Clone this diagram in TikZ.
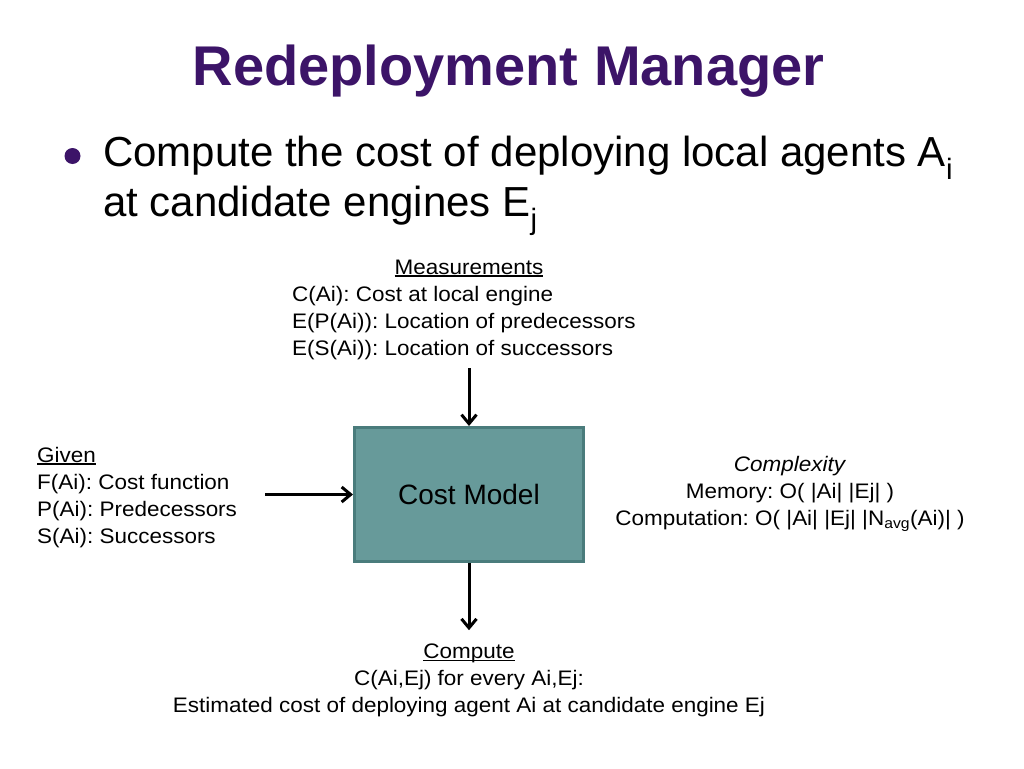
\documentclass[tikz,border=0pt]{standalone}
\usepackage{fontspec}
\setmainfont{Liberation Sans}
\newfontfamily\diagfont[FakeStretch=1.07]{Liberation Sans}
\usepackage{xcolor}
\usepackage{tikz}
\usetikzlibrary{arrows.meta, positioning, calc}
\definecolor{titlepurple}{HTML}{3C1468}
\definecolor{boxfill}{HTML}{679A9A}
\definecolor{boxedge}{HTML}{4A7C7C}
\newcommand{\ulabel}[1]{\setbox0\hbox{#1}\rlap{\rule[-2.6pt]{\wd0}{1.5pt}}\box0}
\frenchspacing

\begin{document}
\begin{tikzpicture}[x=1pt, y=-1pt,
    >={Straight Barb[length=9pt,width=15pt]},
    title/.style={font=\fontsize{56}{60}\selectfont\bfseries, text=titlepurple, inner sep=0},
    point/.style={font=\fontsize{42}{50}\selectfont, inner sep=0, anchor=base west},
    note/.style={font=\diagfont\fontsize{21}{27}\selectfont, inner sep=0},
    costbox/.style={draw=boxedge, fill=boxfill, line width=3pt, minimum width=229pt,
      minimum height=134pt, font=\fontsize{28}{32}\selectfont},
    flow/.style={->, line width=3pt}]
          \fill[white] (0,0) rectangle (1024,768);
          \useasboundingbox (0,0) rectangle (1024,768);

          \node[title, anchor=base] (title) at (508.5,85) {Redeployment Manager};
          \node[circle, fill=titlepurple, minimum size=16pt, inner sep=0] (dot) at (72.5,156) {};
          \node[point] (pt1) at (103,166.5) {Compute the cost of deploying local agents A\textsubscript{i}};
          \node[point] (pt2) at (103,216.5) {at candidate engines E\textsubscript{j}};

          \node[costbox] (cm) at (469,494.5) {Cost Model};

          \node[note, anchor=base] (meashd) at (469,274) {\ulabel{Measurements}};
          \node[note, anchor=north west, align=left] (meas) at (292,285.7)
            {C(Ai): Cost at local engine\\ E(P(Ai)): Location of predecessors\\ E(S(Ai)): Location of successors};
          \node[note, anchor=north west, align=left] (given) at (37,446.7)
            {\ulabel{Given}\\ F(Ai): Cost function\\ P(Ai): Predecessors\\ S(Ai): Successors};
          \node[note, anchor=north, align=center] (cplx) at (790,455.7)
            {\textit{Complexity}\\ Memory: O( |Ai| |Ej| )\\ Computation: O( |Ai| |Ej| |N\textsubscript{avg}(Ai)| )};
          \node[note, anchor=north, align=center] (comp) at (469,643.7)
            {\ulabel{Compute}\\ C(Ai,Ej) for every Ai,Ej:\\ Estimated cost of deploying agent Ai at candidate engine Ej};

          \draw[flow, shorten <=8.5pt] (meas.south -| cm.north) -- (cm.north);
          \draw[flow, shorten <=28pt] (given.east |- cm.west) -- (cm.west);
          \draw[flow, shorten >=13.5pt] (cm.south) -- (comp.north -| cm.south);
        \end{tikzpicture}
\end{document}
